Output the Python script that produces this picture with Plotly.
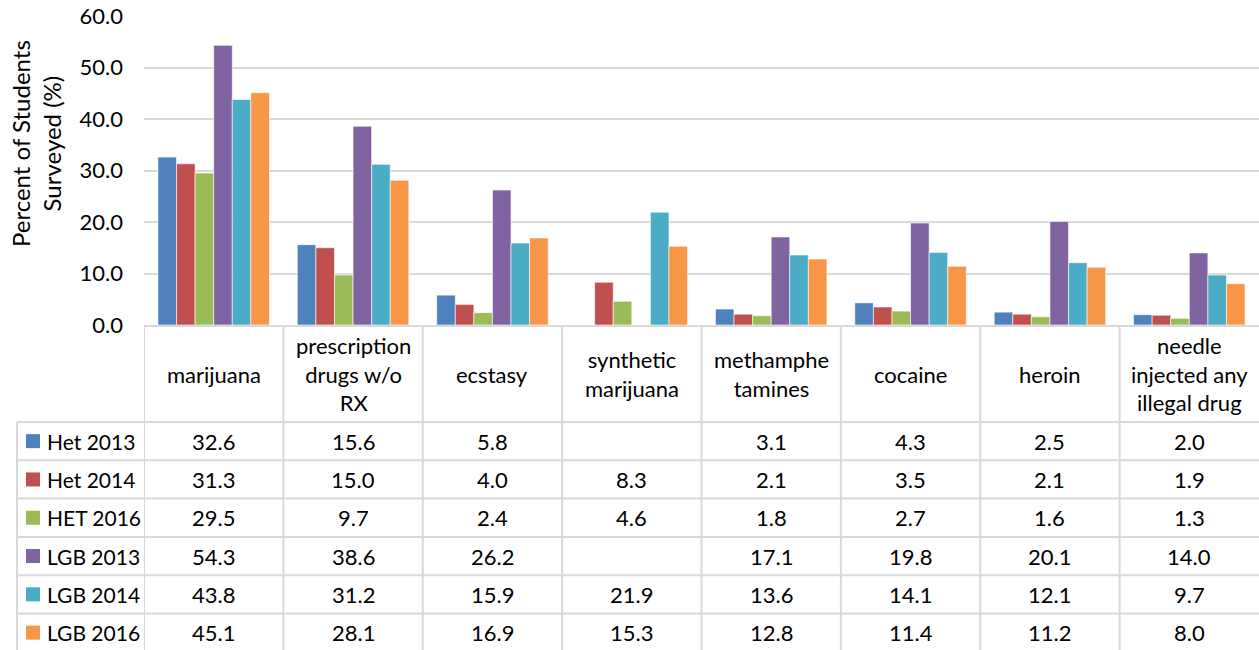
import plotly.graph_objects as go

categories = ["marijuana", "prescription<br>drugs w/o<br>RX", "ecstasy", "synthetic<br>marijuana",
              "methamphe<br>tamines", "cocaine", "heroin", "needle<br>injected any<br>illegal drug"]
series_names = ["Het 2013", "Het 2014", "HET 2016", "LGB 2013", "LGB 2014", "LGB 2016"]
het_2013 = [32.6, 15.6, 5.8, None, 3.1, 4.3, 2.5, 2.0]
het_2014 = [31.3, 15.0, 4.0, 8.3, 2.1, 3.5, 2.1, 1.9]
het_2016 = [29.5, 9.7, 2.4, 4.6, 1.8, 2.7, 1.6, 1.3]
lgb_2013 = [54.3, 38.6, 26.2, None, 17.1, 19.8, 20.1, 14.0]
lgb_2014 = [43.8, 31.2, 15.9, 21.9, 13.6, 14.1, 12.1, 9.7]
lgb_2016 = [45.1, 28.1, 16.9, 15.3, 12.8, 11.4, 11.2, 8.0]
y_ticks = [0, 10, 20, 30, 40, 50, 60]

series_values = [het_2013, het_2014, het_2016, lgb_2013, lgb_2014, lgb_2016]
colors = ["#4F81BD", "#C0504D", "#9BBB59", "#8064A2", "#4BACC6", "#F79646"]

W, H = 1259, 650
L, R, T, B = 144, 0, 16, 325
plot_w = W - L - R
plot_h = H - T - B
FONT = "Lato"
FS = 22
GRID = "#d9d9d9"

def py(p):  # pixel y -> paper y
    return (H - B - p) / plot_h

def px(p):  # pixel x -> paper x
    return (p - L) / plot_w

xs = list(range(len(categories)))
fig = go.Figure()
for name, vals, c in zip(series_names, series_values, colors):
    fig.add_trace(go.Bar(x=xs, y=vals, name=name, hoverinfo="skip",
                         marker=dict(color=c, line=dict(color="rgba(255,255,255,0.6)", width=1))))

shapes = []
annotations = []

header_top = 326
header_bot = 422
row_h = 38.3
n_rows = len(series_names)

# horizontal table lines
for r in range(n_rows + 1):
    yp = header_bot + r * row_h
    shapes.append(dict(type="line", xref="paper", yref="paper", x0=px(17), x1=px(W + 5), y0=py(yp), y1=py(yp),
                       line=dict(color=GRID, width=2)))
# vertical lines
shapes.append(dict(type="line", xref="paper", yref="paper", x0=px(17), x1=px(17), y0=py(header_bot), y1=py(H + 5),
                   line=dict(color=GRID, width=2)))
for i in range(len(categories)):
    shapes.append(dict(type="line", xref="x", yref="paper", x0=i - 0.5, x1=i - 0.5, y0=py(header_top), y1=py(H + 5),
                       line=dict(color=GRID, width=2)))

# header text
for i, cat in enumerate(categories):
    annotations.append(dict(x=i, xref="x", y=py((header_top + header_bot) / 2), yref="paper", text=cat,
                            showarrow=False, xanchor="center", yanchor="middle",
                            font=dict(family=FONT, size=FS, color="#000")))

# rows
for r, (name, vals, c) in enumerate(zip(series_names, series_values, colors)):
    yc = header_bot + r * row_h + row_h / 2
    shapes.append(dict(type="rect", xref="paper", yref="paper", x0=px(26), x1=px(40), y0=py(yc - 7), y1=py(yc + 7),
                       fillcolor=c, line=dict(width=0)))
    annotations.append(dict(x=px(45), xref="paper", y=py(yc), yref="paper", text=name, showarrow=False,
                            xanchor="left", yanchor="middle", font=dict(family=FONT, size=21, color="#000")))
    for i, v in enumerate(vals):
        if v is None:
            continue
        annotations.append(dict(x=i, xref="x", y=py(yc), yref="paper", text=f"{v:.1f}", showarrow=False,
                                xanchor="center", yanchor="middle", font=dict(family=FONT, size=FS, color="#000")))

# y axis title
annotations.append(dict(x=px(36), xref="paper", y=py(144), yref="paper", text="Percent of Students<br>Surveyed (%)",
                        textangle=-90, showarrow=False, xanchor="center", yanchor="middle",
                        font=dict(family=FONT, size=24, color="#000")))

fig.update_layout(
    width=W, height=H,
    margin=dict(l=L, r=R, t=T, b=B, pad=0, autoexpand=False),
    paper_bgcolor="white", plot_bgcolor="white",
    barmode="group", bargap=0.2, bargroupgap=0,
    showlegend=False, hovermode=False,
    shapes=shapes, annotations=annotations,
    xaxis=dict(range=[-0.5, len(categories) - 0.5], showticklabels=False, showgrid=False, zeroline=False,
               showline=True, linecolor=GRID, linewidth=2, fixedrange=True, automargin=False),
    yaxis=dict(range=[0, 60], tickvals=y_ticks, tickformat=".1f", showgrid=True, gridcolor=GRID, gridwidth=2,
               zeroline=False, showline=False, ticklabelstandoff=20, automargin=False, fixedrange=True,
               tickfont=dict(family=FONT, size=FS, color="#000")),
)

fig.write_html("out.html", config={"displayModeBar": False},
               post_script="document.body.style.margin='0';document.body.style.overflow='hidden';")
